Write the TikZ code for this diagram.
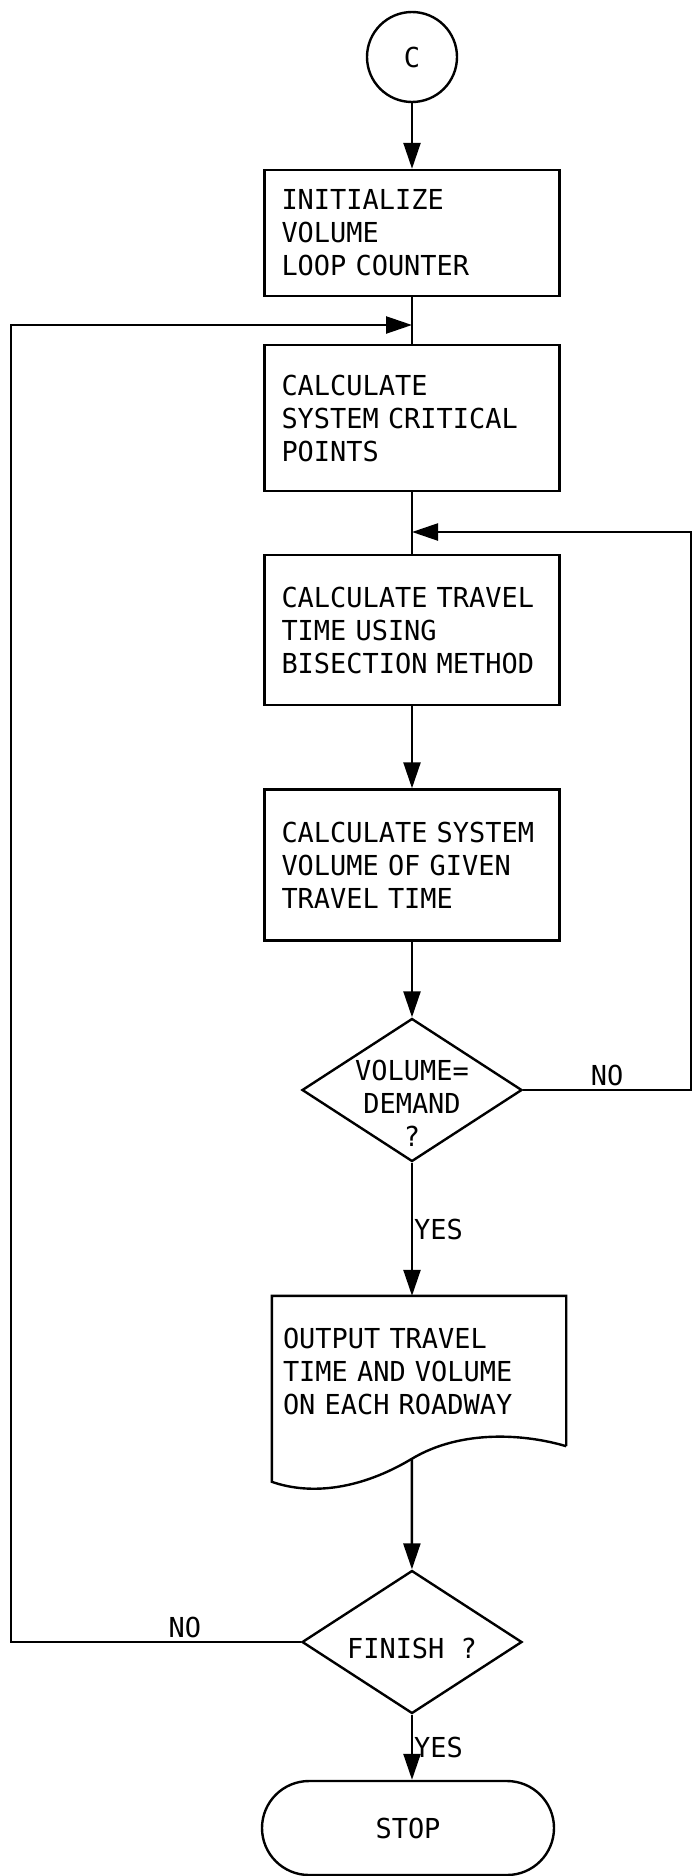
\documentclass[tikz,border=0pt]{standalone}
\usepackage{fontspec}
\newfontfamily\flowfont{DejaVu Sans Mono}[FakeStretch=0.98, WordSpace={1,0,0}]
\usetikzlibrary{arrows.meta, shapes.geometric, positioning, calc}

\begin{document}
\begin{tikzpicture}[
    x=1pt, y=-1pt,
    > = {Triangle[length=26pt, width=17pt]},
    every node/.style={font={\flowfont\fontsize{27.5}{33}\selectfont}},
    line/.style={draw=black, line width=2.4pt},
    arr/.style={line, ->},
    procbox/.style={line, rectangle, minimum width=295pt, text width=261pt, inner xsep=17pt, align=left},
    docbox/.style={rectangle, minimum width=294pt, minimum height=150pt, text width=272pt, inner xsep=11pt, align=left},
    decision/.style={line, diamond, minimum width=220pt, minimum height=143pt, inner sep=0pt},
    terminal/.style={line, rectangle, rounded corners=47pt, minimum width=292pt, minimum height=94pt},
    connector/.style={line, circle, minimum size=90pt, inner sep=0pt}
]
    \useasboundingbox (0,0) rectangle (694,1876);

    % 1. Entry connector and the main column of boxes
    \node[connector] (cc) at (412,57) {C};
    \node[procbox, minimum height=126pt] (init) at (412,233) {INITIALIZE\\VOLUME\\LOOP COUNTER};
    \node[procbox, minimum height=146pt] (crit) at (412,418) {CALCULATE\\SYSTEM CRITICAL\\POINTS};
    \node[procbox, minimum height=150pt] (bisect) at (412,630) {CALCULATE TRAVEL\\TIME USING\\BISECTION METHOD};
    \node[procbox, minimum height=151pt] (sysvol) at (412,865) {CALCULATE SYSTEM\\VOLUME OF GIVEN\\TRAVEL TIME};

    % 2. Decisions, output document and stop
    \node[decision, label={[align=center, yshift=-13pt]center:VOLUME=\\DEMAND\\?}] (vol) at (412,1090) {};
    \node[docbox] (out) at (419,1371) {OUTPUT TRAVEL\\TIME AND VOLUME\\ON EACH ROADWAY};
    \draw[line] (out.south east) -- (out.north east) -- (out.north west) -- ++(0,186)
        .. controls +(40,14) and +(-50,30) .. ++(140,-23) coordinate (outb)
        .. controls +(50,-30) and +(-40,-12) .. (out.south east);
    \node[decision, label={[yshift=-6pt]center:FINISH ?}] (fin) at (412,1642) {};
    \node[terminal] (stop) at (408,1828) {STOP};

    % 3. Junctions for the two loops
    \coordinate (j1) at (412,325);
    \coordinate (j2) at (412,532);
    \coordinate (lhs) at (11,325);
    \coordinate (rhs) at (691,532);

    % 4. Flow lines
    \draw[arr] (cc) -- (init);
    \draw[line] (init) -- (crit);
    \draw[line] (crit) -- (bisect);
    \draw[arr] (bisect) -- (sysvol);
    \draw[arr] (sysvol) -- (vol);
    \draw[arr] (vol.south) -- (vol.south |- out.north) node[pos=0.5, right, inner sep=1pt] {YES};
    \draw[arr] (outb) -- (fin);
    \draw[arr] (fin.south) -- (fin.south |- stop.north) node[midway, right, inner sep=1pt] {YES};

    % 5. Loop backs
    \draw[arr] (vol.east) -| (rhs) node[pos=0.25, above] {NO} -- (j2);
    \draw[arr] (fin.west) -| (lhs) node[pos=0.2, above] {NO} -- (j1);

\end{tikzpicture}
\end{document}
